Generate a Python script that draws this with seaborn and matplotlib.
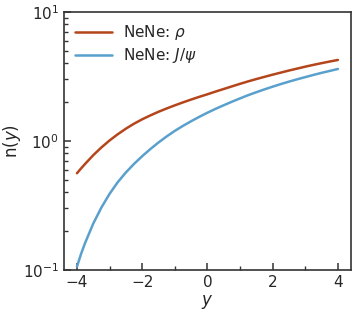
import seaborn as sns
import matplotlib.pyplot as plt
import pandas as pd

# rapidity grid and yields
y_vals = [-4.0, -3.875, -3.75, -3.5, -3.25, -3.0, -2.75, -2.5, -2.25, -2.0,
          -1.75, -1.5, -1.25, -1.0, -0.75, -0.5, -0.25, 0.0, 0.25, 0.5,
          0.75, 1.0, 1.25, 1.5, 1.75, 2.0, 2.25, 2.5, 2.75, 3.0,
          3.25, 3.5, 3.75, 4.0]
rho_n = [0.562, 0.612, 0.664, 0.776, 0.891, 1.009, 1.127, 1.245, 1.361, 1.472,
         1.578, 1.683, 1.786, 1.888, 1.991, 2.094, 2.198, 2.301, 2.415, 2.529,
         2.649, 2.773, 2.897, 3.020, 3.141, 3.266, 3.388, 3.516, 3.639, 3.767,
         3.890, 4.009, 4.130, 4.246]
jpsi_n = [0.106, 0.133, 0.162, 0.229, 0.305, 0.389, 0.479, 0.570, 0.664, 0.762,
          0.865, 0.973, 1.084, 1.197, 1.309, 1.422, 1.538, 1.656, 1.774, 1.892,
          2.014, 2.138, 2.265, 2.388, 2.512, 2.636, 2.761, 2.884, 3.006, 3.126,
          3.251, 3.373, 3.491, 3.614]
labels = ["NeNe: $\\rho$", "NeNe: $J/\\psi$"]
colors = ["#b5451b", "#5aa0cd"]

df = pd.concat([
    pd.DataFrame({"y": y_vals, "n": rho_n, "series": labels[0]}),
    pd.DataFrame({"y": y_vals, "n": jpsi_n, "series": labels[1]}),
])

sns.set_style("ticks")
plt.rcParams["font.family"] = ["DejaVu Sans"]
fig = plt.figure(figsize=(3.57, 3.15), dpi=100)
ax = fig.add_axes([0.179, 0.143, 0.804, 0.819])

sns.lineplot(data=df, x="y", y="n", hue="series", palette=colors,
             linewidth=1.8, ax=ax)

ax.set_yscale("log")
ax.set_ylim(0.1, 10)
ax.set_xlim(-4.4, 4.4)
ax.set_xticks([-4, -2, 0, 2, 4])
ax.set_xticks([-3, -1, 1, 3], minor=True)
ax.tick_params(direction="in", which="both", labelsize=11, color="#333333",
               top=False, right=False)
ax.tick_params(which="major", length=5, width=1.1)
ax.tick_params(which="minor", length=3, width=1.0)
for s in ax.spines.values():
    s.set_color("#333333")
    s.set_linewidth(1.2)
ax.set_xlabel("$y$", fontsize=12, labelpad=2)
ax.set_ylabel("n($y$)", fontsize=12, labelpad=0)
ax.legend(loc="upper left", frameon=False, fontsize=11, title=None,
          handlelength=2.4, labelspacing=0.25, borderaxespad=0.35,
          handletextpad=0.75)

plt.savefig("out.png", dpi=100)
